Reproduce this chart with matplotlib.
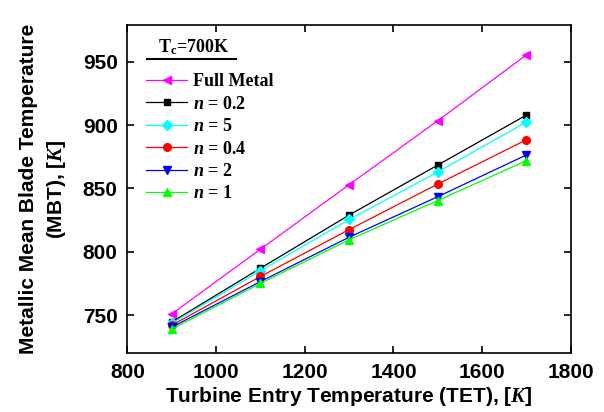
import matplotlib
matplotlib.use("Agg")
import matplotlib.pyplot as plt
from matplotlib.lines import Line2D

plt.rcParams['mathtext.fontset'] = 'custom'
plt.rcParams['mathtext.it'] = 'Liberation Serif:italic:bold'
plt.rcParams['mathtext.rm'] = 'Liberation Serif:bold'
plt.rcParams['mathtext.bf'] = 'Liberation Serif:bold'

tet = [900, 1100, 1300, 1500, 1700]
full_metal = [751, 802, 853, 903.5, 955.5]
n_02 = [744.5, 787, 829, 868.5, 908]
n_5 = [743.5, 785, 825.5, 863, 902.5]
n_04 = [742, 780.5, 817.5, 853.5, 888.5]
n_2 = [740.5, 776.5, 811.5, 843.5, 876.5]
n_1 = [739, 775, 809.5, 840.5, 872]

labels = ["Full Metal", "$n$ = 0.2", "$n$ = 5", "$n$ = 0.4", "$n$ = 2", "$n$ = 1"]
series = [full_metal, n_02, n_5, n_04, n_2, n_1]
colors = ["#FF00FF", "#000000", "#00FFFF", "#FF0000", "#0000FF", "#00FF00"]
markers = ["<", "s", "D", "o", "v", "^"]
msizes = [6, 4.5, 5, 5.5, 6, 6]

xticks = [800, 1000, 1200, 1400, 1600, 1800]
yticks = [750, 800, 850, 900, 950]

fig = plt.figure(figsize=(6.04, 4.12), dpi=100)
ax = fig.add_axes([0.211, 0.143, 0.734, 0.796])

for y, c, m, ms, lab in zip(series, colors, markers, msizes, labels):
    ax.plot(tet, y, color=c, marker=m, markersize=ms, linewidth=0.9, label=lab)

ax.set_xlim(800, 1800)
ax.set_ylim(720, 979)
ax.set_xticks(xticks)
ax.set_yticks(yticks)
ax.tick_params(direction='in', top=True, right=True, length=5, width=1.2,
               labelsize=15, pad=7)
for lbl in ax.get_xticklabels() + ax.get_yticklabels():
    lbl.set_fontfamily('Liberation Sans')
    lbl.set_fontweight('bold')
for s in ax.spines.values():
    s.set_linewidth(1.2)

ax.set_xlabel("Turbine Entry Temperature (TET), [$\\mathit{K}$]",
              fontfamily='Liberation Sans', fontweight='bold', fontsize=15, labelpad=2)
ax.set_ylabel("Metallic Mean Blade Temperature\n(MBT), [$\\mathit{K}$]",
              fontfamily='Liberation Sans', fontweight='bold', fontsize=15,
              labelpad=11, linespacing=1.4)

leg = ax.legend(loc='upper left', bbox_to_anchor=(0.025, 0.875), frameon=False,
                prop={'family': 'Liberation Serif', 'weight': 'bold', 'size': 13},
                handlelength=2.3, handletextpad=0.3, labelspacing=0.3,
                borderaxespad=0.0)

ax.text(0.069, 0.902, "T$_\\mathrm{c}$=700K", transform=ax.transAxes,
        fontfamily='Liberation Serif', fontweight='bold', fontsize=13,
        ha='left', va='bottom')
ax.add_line(Line2D([0.044, 0.245], [0.896, 0.896], transform=ax.transAxes,
                   color='black', linewidth=1.5))

fig.savefig("out.png", dpi=100)
